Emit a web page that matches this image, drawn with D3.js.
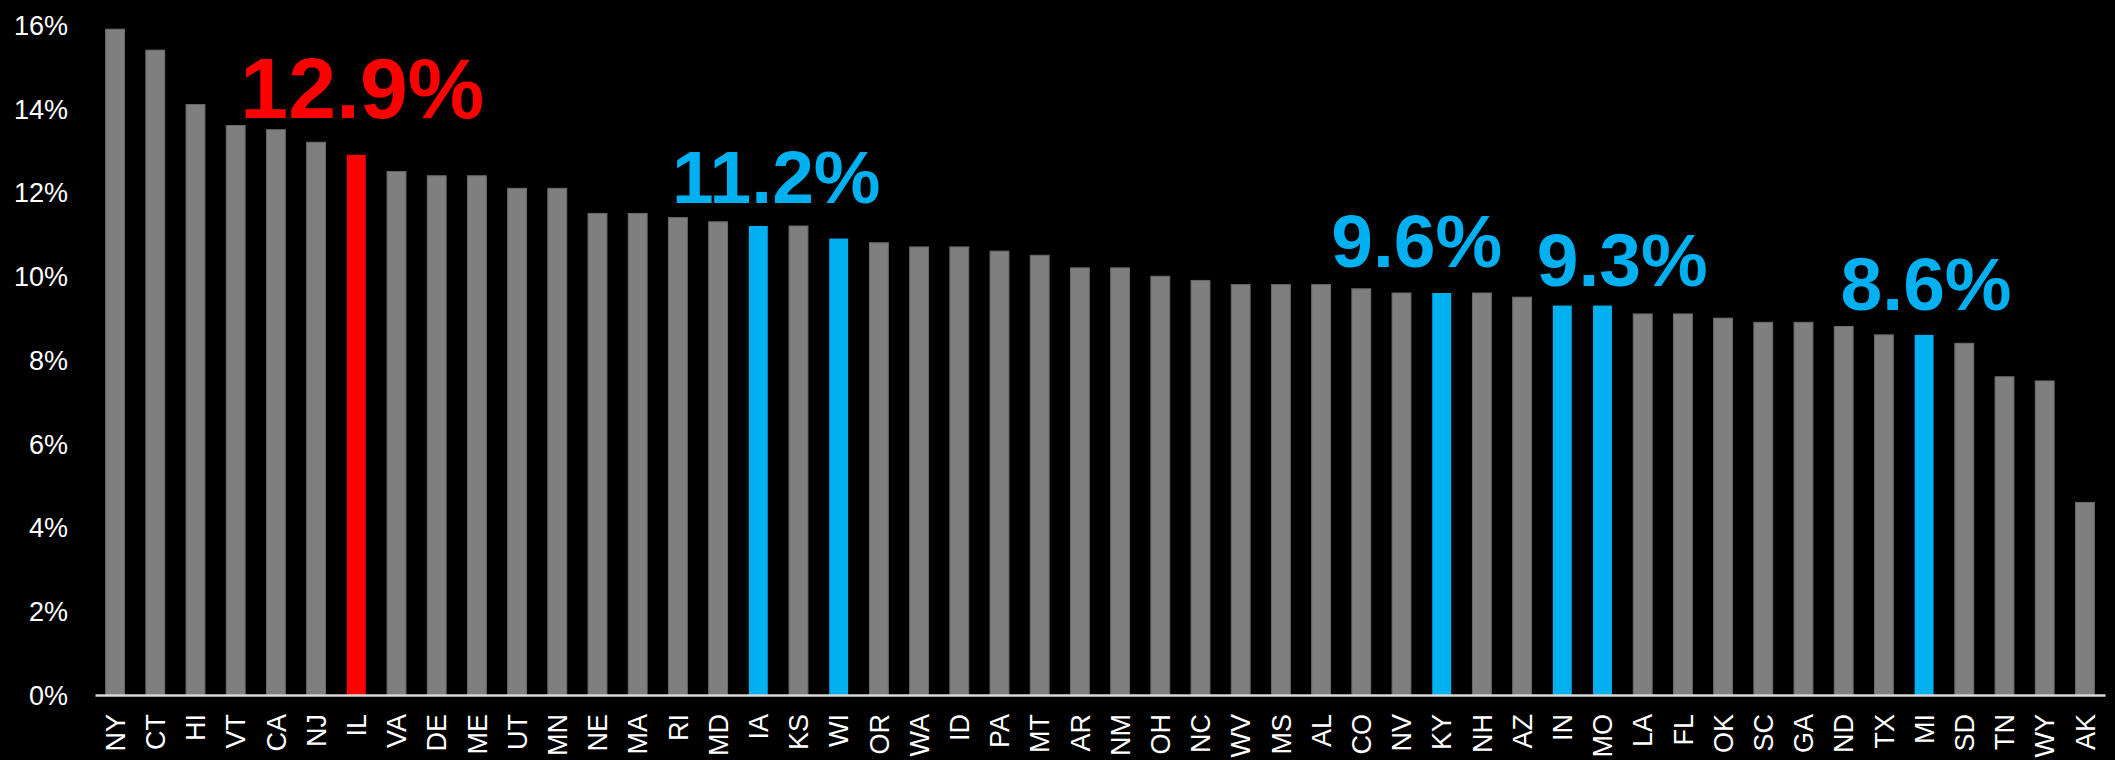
<!DOCTYPE html>
<html>
<head>
<meta charset="utf-8">
<script src="https://cdn.jsdelivr.net/npm/d3@7"></script>
<style>
  html, body { margin: 0; padding: 0; background: #000; }
  svg { display: block; }
</style>
</head>
<body>
<div id="chart"></div>
<script>
// ---- data ----
const states = ["NY","CT","HI","VT","CA","NJ","IL","VA","DE","ME","UT","MN","NE","MA","RI","MD","IA","KS","WI","OR",
  "WA","ID","PA","MT","AR","NM","OH","NC","WV","MS","AL","CO","NV","KY","NH","AZ","IN","MO","LA","FL",
  "OK","SC","GA","ND","TX","MI","SD","TN","WY","AK"];
const values = [15.9,15.4,14.1,13.6,13.5,13.2,12.9,12.5,12.4,12.4,12.1,12.1,11.5,11.5,11.4,11.3,11.2,11.2,10.9,10.8,
  10.7,10.7,10.6,10.5,10.2,10.2,10.0,9.9,9.8,9.8,9.8,9.7,9.6,9.6,9.6,9.5,9.3,9.3,9.1,9.1,
  9.0,8.9,8.9,8.8,8.6,8.6,8.4,7.6,7.5,4.6];
const redStates = ["IL"];
const blueStates = ["IA","WI","KY","IN","MO","MI"];
const yTicks = [0,2,4,6,8,10,12,14,16];
const annotationStates = ["IL","IA","KY","IN","MI"];
const annotationTexts = ["12.9%","11.2%","9.6%","9.3%","8.6%"];

// ---- layout / style ----
const W = 2115, H = 760;
const GRAY = "#7f7f7f", RED = "#ff0000", BLUE = "#00b0f0";
const annStyle = {
  IL: {dx: 6,  dy: 37, size: 86, color: RED},
  IA: {dx: 18, dy: 23, size: 75, color: BLUE},
  KY: {dx: -25, dy: 26, size: 75, color: BLUE},
  IN: {dx: 60, dy: 20, size: 75, color: BLUE},
  MI: {dx: 2,  dy: 25, size: 75, color: BLUE}
};

const data = states.map((s, i) => ({state: s, value: values[i]}));

const svg = d3.select("#chart").append("svg")
  .attr("width", W).attr("height", H)
  .style("background", "#000")
  .style("font-family", "'Liberation Sans', Arial, sans-serif");

const x = d3.scaleBand().domain(states).range([95, 2105]).paddingInner(0.53).paddingOuter(0.265);
const y = d3.scaleLinear().domain([0, 16]).range([695, 25]);

const colorOf = s => redStates.includes(s) ? RED : (blueStates.includes(s) ? BLUE : GRAY);

// bars
svg.append("g").selectAll("rect").data(data).join("rect")
  .attr("x", d => x(d.state))
  .attr("y", d => y(d.value))
  .attr("width", x.bandwidth())
  .attr("height", d => y(0) - y(d.value))
  .attr("fill", d => colorOf(d.state))
  .attr("stroke", d => colorOf(d.state) === GRAY ? "#6a6a6a" : "none")
  .attr("stroke-width", 1);

// y axis (labels only)
const yAxis = d3.axisLeft(y).tickValues(yTicks).tickFormat(d => d + "%").tickSize(0).tickPadding(0);
const gy = svg.append("g").attr("transform", "translate(68,0)").call(yAxis);
gy.select(".domain").remove();
gy.selectAll("text").attr("fill", "#fff").style("font-size", "27px")
  .style("font-family", "'Liberation Sans', Arial, sans-serif").attr("dy", "0.35em");

// x axis
const xAxis = d3.axisBottom(x).tickSize(0).tickPadding(0);
const gx = svg.append("g").attr("transform", "translate(0,695)").call(xAxis);
gx.select(".domain").attr("stroke", "#d9d9d9").attr("stroke-width", 2.5);
gx.selectAll("text")
  .attr("fill", "#fff")
  .style("font-size", "27px")
  .style("font-family", "'Liberation Sans', Arial, sans-serif")
  .attr("text-anchor", "end")
  .attr("transform", "rotate(-90)")
  .attr("x", -19)
  .attr("y", 0)
  .attr("dy", "0.36em");

// annotations
const annData = annotationStates.map((s, i) => ({state: s, text: annotationTexts[i], value: values[states.indexOf(s)]}));
svg.append("g").selectAll("text").data(annData).join("text")
  .attr("x", d => x(d.state) + x.bandwidth() / 2 + annStyle[d.state].dx)
  .attr("y", d => y(d.value) - annStyle[d.state].dy)
  .attr("text-anchor", "middle")
  .attr("fill", d => annStyle[d.state].color)
  .style("font-size", d => annStyle[d.state].size + "px")
  .style("font-weight", "bold")
  .text(d => d.text);
</script>
</body>
</html>
